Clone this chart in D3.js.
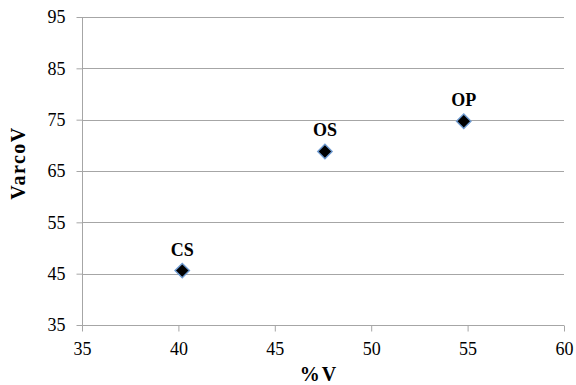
<!DOCTYPE html>
<html><head><meta charset="utf-8">
<script src="https://cdn.jsdelivr.net/npm/d3@7"></script>
<style>body{margin:0;background:#fff;}</style>
</head><body>
<svg id="c" width="576" height="385" font-family="Liberation Serif"></svg>
<script>
const labels = ["CS", "OS", "OP"];
const xValues = [40.2, 47.6, 54.8];
const yValues = [45.6, 68.8, 74.7];
const xTicks = [35, 40, 45, 50, 55, 60];
const yTicks = [35, 45, 55, 65, 75, 85, 95];

const FONT = "Liberation Serif";
const svg = d3.select("#c");
const m = {l:82, r:12, t:17, b:60};
const W = 576, H = 385;
const x = d3.scaleLinear().domain([35,60]).range([m.l, W-m.r]);
const y = d3.scaleLinear().domain([35,95]).range([H-m.b, m.t]);

// gridlines
svg.append("g").selectAll("line").data(yTicks.filter(d=>d>35)).join("line")
  .attr("x1", m.l).attr("x2", W-m.r).attr("y1", d=>Math.round(y(d))+0.5).attr("y2", d=>Math.round(y(d))+0.5)
  .attr("stroke", "#a6a6a6").attr("stroke-width", 1);

const xAxis = svg.append("g").attr("transform", `translate(0,${Math.round(y(35))+0.5})`)
  .call(d3.axisBottom(x).tickValues(xTicks).tickSize(6).tickPadding(11));
const yAxis = svg.append("g").attr("transform", `translate(${m.l+0.5},0)`)
  .call(d3.axisLeft(y).tickValues(yTicks).tickSize(6).tickPadding(11));
[xAxis, yAxis].forEach(a=>{
  a.attr("font-family", FONT).attr("font-size", 18);
  a.selectAll("path,line").attr("stroke","#a6a6a6");
  a.selectAll("text").attr("fill","#000");
});
xAxis.select("path").attr("d", `M${m.l},0H${W-m.r}`);
yAxis.select("path").attr("d", `M0,${y(35)}V${m.t}`);

const pts = labels.map((l,i)=>({l, x:xValues[i], y:yValues[i]}));
const s = 7.2;
svg.append("g").selectAll("path").data(pts).join("path")
  .attr("d", `M0,${-s}L${s},0L0,${s}L${-s},0Z`)
  .attr("transform", d=>`translate(${x(d.x)},${y(d.y)})`)
  .attr("fill","#000").attr("stroke","#6f9bd1").attr("stroke-width",1.4);

svg.append("g").selectAll("text").data(pts).join("text")
  .attr("x", d=>x(d.x)).attr("y", d=>y(d.y)-15)
  .attr("text-anchor","middle").attr("font-family", FONT).attr("font-size",18).attr("font-weight","bold")
  .text(d=>d.l);

svg.append("text").attr("x", 319).attr("y", 381).attr("text-anchor","middle")
  .attr("font-family", FONT).attr("font-size",20).attr("font-weight","bold")
  .attr("letter-spacing", 2).text("%V");
svg.append("text").attr("transform", `translate(25,163) rotate(-90)`)
  .attr("text-anchor","middle").attr("font-family", FONT).attr("font-size",20).attr("font-weight","bold")
  .attr("letter-spacing", 1.5).text("VarcoV");
</script>
</body></html>
